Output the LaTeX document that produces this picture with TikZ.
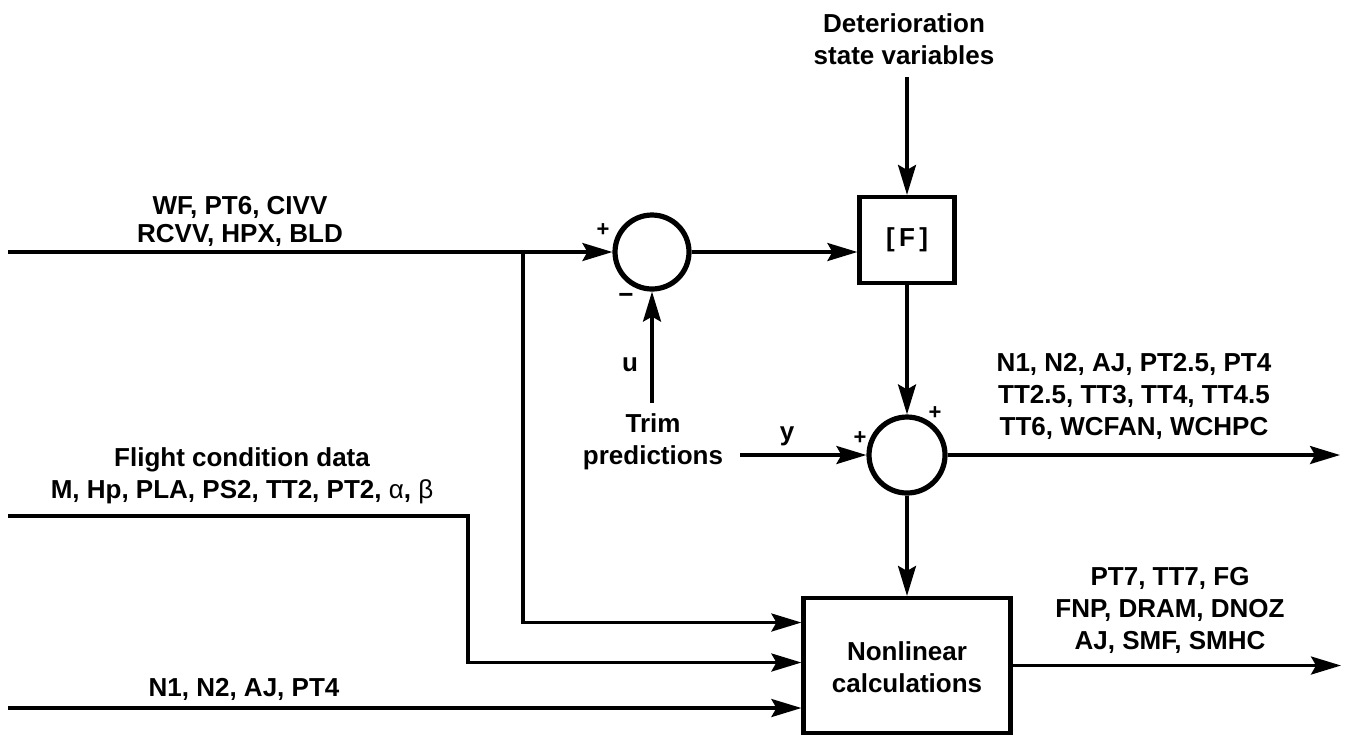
\documentclass[tikz,border=0pt]{standalone}
\usepackage{fontspec}
\setmainfont{Liberation Sans}
\usetikzlibrary{arrows.meta,calc}
\begin{document}
\begin{tikzpicture}[x=0.5pt,y=-0.5pt,
  lbl/.style={font=\fontsize{13}{16}\selectfont\bfseries,align=center,inner sep=0pt},
  sgn/.style={font=\fontsize{11}{11}\selectfont\bfseries,inner sep=0pt},
  sumnode/.style={circle,draw,line width=2.6pt,minimum size=37pt,inner sep=0pt},
  blk/.style={draw,line width=2.1pt,inner sep=0pt},
  arr/.style={line width=1.6pt,-{Stealth[length=15pt,width=9pt,inset=2.5pt]}},
  ln/.style={line width=1.6pt}]
\useasboundingbox (0,0) rectangle (1352,736);

% blocks
\node[sumnode] (c1) at (652,252) {};
\node[blk,minimum width=47.5pt,minimum height=43pt,font=\fontsize{13}{15}\selectfont\bfseries] (F) at (907,240) {[\,F\,]};
\node[sumnode,minimum size=38pt] (c2) at (907,455) {};
\node[blk,minimum width=103.5pt,minimum height=67.5pt] (NL) at (907,665.5) {};
\node[lbl] (nltxt) at (907,667) {Nonlinear\\calculations};

% texts
\node[lbl,font=\fontsize{13}{14}\selectfont\bfseries] (wf) at (240,221) {WF, PT6, CIVV\\RCVV, HPX, BLD};
\node[lbl] (det) at (904,39) {Deterioration\\state variables};
\node[lbl] (outtop) at (1134,396) {N1, N2, AJ, PT2.5, PT4\\TT2.5, TT3, TT4, TT4.5\\TT6, WCFAN, WCHPC};
\node[lbl] (trim) at (653,442) {Trim\\predictions};
\node[lbl] (u) at (630,365) {u};
\node[lbl] (y) at (787,436) {y};
\node[lbl] (flight) at (242,476) {Flight condition data\\M, Hp, PLA, PS2, TT2, PT2, {\mdseries α}, {\mdseries β}};
\node[lbl] (n1lbl) at (244,689) {N1, N2, AJ, PT4};
\node[lbl] (outbot) at (1170,610) {PT7, TT7, FG\\FNP, DRAM, DNOZ\\AJ, SMF, SMHC};

% signs
\node[sgn] (p1) at (603,230) {+};
\node[sgn,font=\fontsize{13}{13}\selectfont\bfseries] (m1) at (626,298) {\textminus};
\node[sgn] (p2) at (860,438) {+};
\node[sgn] (p3) at (935,413) {+};

% coordinates
\coordinate (in1) at (8,252);
\coordinate (br) at (523,252);
\coordinate (fl) at (8,516);
\coordinate (flc) at (468,516);
\coordinate (n1in) at (8,708);
\coordinate (dtop) at (907,77);
\coordinate (ttop) at (652,403);
\coordinate (tarr) at (740,455);
\coordinate (out1) at (1340,455);
\coordinate (out2) at (1341,665.5);

% connectors
\draw[arr] (in1) -- (c1.west);
\draw[arr] (c1.east) -- (c1.east -| F.west);
\draw[arr] (br) |- ($(NL.west)+(0,-43)$);
\draw[arr] (fl) -- (flc) |- ($(NL.west)+(0,-3)$);
\draw[arr] (n1in) -- (n1in -| NL.west);
\draw[arr] (dtop) -- (F.north);
\draw[arr] (F.south) -- (c2.north);
\draw[arr] (ttop) -- (c1.south);
\draw[arr] (tarr) -- (c2.west);
\draw[arr] (c2.east) -- (out1);
\draw[arr] (c2.south) -- (NL.north);
\draw[arr] (NL.east) -- (out2);
\end{tikzpicture}
\end{document}
